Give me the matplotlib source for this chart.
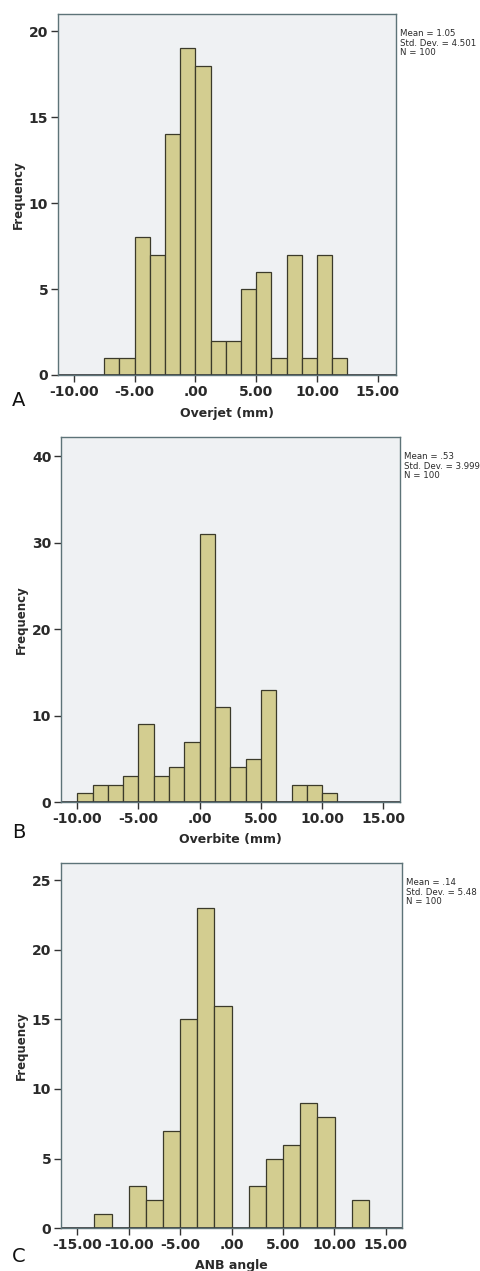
import numpy as np
import matplotlib
matplotlib.use("Agg")
from matplotlib import pyplot as plt

# Panel A - Overjet
overjet_start = -7.5
overjet_width = 1.25
overjet_counts = [1, 1, 8, 7, 14, 19, 18, 2, 2, 5, 6, 1, 7, 1, 7, 1]
overjet_xticks = [-10, -5, 0, 5, 10, 15]
overjet_yticks = [0, 5, 10, 15, 20]
overjet_stats = "Mean = 1.05\nStd. Dev. = 4.501\nN = 100"

# Panel B - Overbite
overbite_start = -10.0
overbite_width = 1.25
overbite_counts = [1, 2, 2, 3, 9, 3, 4, 7, 31, 11, 4, 5, 13, 0, 2, 2, 1]
overbite_xticks = [-10, -5, 0, 5, 10, 15]
overbite_yticks = [0, 10, 20, 30, 40]
overbite_stats = "Mean = .53\nStd. Dev. = 3.999\nN = 100"

# Panel C - ANB angle
anb_start = -13.35
anb_width = 1.67
anb_counts = [1, 0, 3, 2, 7, 15, 23, 16, 0, 3, 5, 6, 9, 8, 0, 2]
anb_xticks = [-15, -10, -5, 0, 5, 10, 15]
anb_yticks = [0, 5, 10, 15, 20, 25]
anb_stats = "Mean = .14\nStd. Dev. = 5.48\nN = 100"

bar_color = "#d3cd90"
edge_color = "#3b3a2a"
bg_color = "#eff1f3"
frame_color = "#5d7378"
text_color = "#2a2a2a"


def fmt(v):
    if v == 0:
        return ".00"
    return "%.2f" % v


def panel(rect, start, width, counts, xticks, yticks, xlim, ylim, xlabel, letter, stats, letter_y, xlabel_y):
    ax = fig.add_axes(rect)
    ax.set_facecolor(bg_color)
    edges = start + width * np.arange(len(counts))
    ax.bar(edges, counts, width=width, align="edge", color=bar_color,
           edgecolor=edge_color, linewidth=0.9)
    ax.set_xlim(xlim)
    ax.set_ylim(ylim)
    ax.set_xticks(xticks)
    ax.set_xticklabels([fmt(v) for v in xticks])
    ax.set_yticks(yticks)
    ax.set_yticklabels([str(v) for v in yticks])
    for s in ax.spines.values():
        s.set_color(frame_color)
        s.set_linewidth(1.0)
    ax.axhline(0, color="#333333", lw=1.2)
    ax.tick_params(axis="both", direction="out", length=5, width=1.0,
                   color="#333333", labelsize=10, labelcolor=text_color, pad=2)
    for lab in ax.get_xticklabels() + ax.get_yticklabels():
        lab.set_fontweight("bold")
    ax.set_ylabel("Frequency", fontsize=8.5, fontweight="bold", color=text_color, labelpad=3)
    fig.text(rect[0] + rect[2] / 2, xlabel_y, xlabel, ha="center", va="center",
             fontsize=9, fontweight="bold", color=text_color)
    fig.text(0.025, letter_y, letter, fontsize=14, ha="left", va="center", color="#111111")
    fig.text(rect[0] + rect[2] + 0.008, rect[1] + rect[3] - 0.012, stats, fontsize=6.2,
             ha="left", va="top", color=text_color, linespacing=1.05)
    return ax


fig = plt.figure(figsize=(4.81, 12.71), dpi=100)

panel([0.1206, 0.7050, 0.7027, 0.2840], overjet_start, overjet_width, overjet_counts,
      overjet_xticks, overjet_yticks, (-11.3, 16.5), (0, 21.0), "Overjet (mm)", "A",
      overjet_stats, 1 - 400 / 1271, 1 - 413 / 1271)

panel([0.1268, 0.3690, 0.7048, 0.2872], overbite_start, overbite_width, overbite_counts,
      overbite_xticks, overbite_yticks, (-11.33, 16.36), (0, 42.25), "Overbite (mm)", "B",
      overbite_stats, 1 - 833 / 1271, 1 - 840 / 1271)

panel([0.1268, 0.0338, 0.7090, 0.2872], anb_start, anb_width, anb_counts,
      anb_xticks, anb_yticks, (-16.6, 16.6), (0, 26.25), "ANB angle", "C",
      anb_stats, 1 - 1257 / 1271, 1 - 1266 / 1271)

fig.savefig("out.png", dpi=100, facecolor="white")
